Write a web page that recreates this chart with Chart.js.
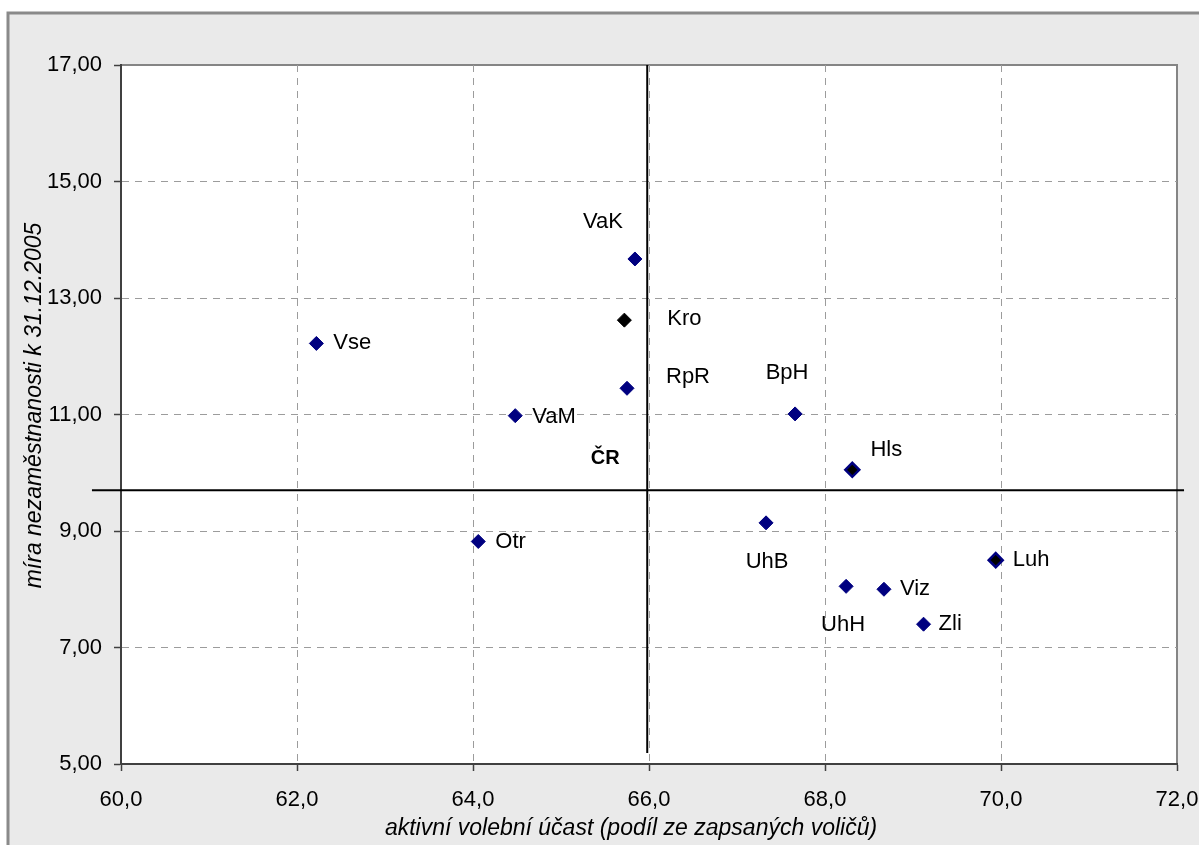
<!DOCTYPE html>
<html>
<head>
<meta charset="utf-8">
<script src="https://cdn.jsdelivr.net/npm/chart.js@4/dist/chart.umd.min.js"></script>
<style>
  html, body { margin: 0; padding: 0; background: #ffffff; }
  #wrap { width: 1199px; height: 845px; }
</style>
</head>
<body>
<div id="wrap"><canvas id="c" width="1199" height="845"></canvas></div>
<script>
// ---------- DATA ----------
const categories   = ['Vse', 'VaM', 'Otr', 'VaK', 'Kro', 'RpR', 'BpH', 'Hls', 'UhB', 'UhH', 'Viz', 'Zli', 'Luh'];
const turnout      = [62.22, 64.48, 64.06, 65.84, 65.72, 65.75, 67.66, 68.31, 67.33, 68.24, 68.67, 69.12, 69.94];
const unemployment = [12.22, 10.98,  8.82, 13.67, 12.62, 11.45, 11.01, 10.05,  9.14,  8.05,  8.00,  7.40,  8.50];
const crLabel = 'ČR';
const crTurnout = 65.98;
const crUnemployment = 9.70;
const crHLineX = [59.67, 72.08];   // extent of the ČR horizontal reference line (x values)
const crVLineY = [17.00, 5.19];    // extent of the ČR vertical reference line (y values)
const xTickLabels = ['60,0', '62,0', '64,0', '66,0', '68,0', '70,0', '72,0'];
const yTickLabels = ['5,00', '7,00', '9,00', '11,00', '13,00', '15,00', '17,00'];
const xTitle = 'aktivní volební účast (podíl ze zapsaných voličů)';
const yTitle = 'míra nezaměstnanosti k 31.12.2005';

// ---------- STYLE ----------
const FONT = '"Liberation Sans", Arial, sans-serif';
const NAVY = '#000080';
// label placement: [dx, dy, align] relative to the drawn point
const labelPlacement = {
  Vse: [17, 0, 'left'], VaM: [17, 1, 'left'], Otr: [17, 0, 'left'],
  VaK: [-32, -37, 'center'], Kro: [43, -1, 'left'], RpR: [39, -11, 'left'],
  BpH: [-8, -41, 'center'], Hls: [34, -20, 'center'], UhB: [1, 39, 'center'],
  UhH: [-3, 39, 'center'], Viz: [16, 0, 'left'], Zli: [15, 0, 'left'], Luh: [17, 0, 'left']
};
const crPlacement = [-42, -32];
const pointFill   = categories.map(c => (c === 'Kro' || c === 'Hls' || c === 'Luh') ? '#000000' : NAVY);
const pointBorder = categories.map(c => (c === 'Kro') ? '#000000' : NAVY);
const pointBorderW = categories.map(c => (c === 'Hls' || c === 'Luh') ? 2.5 : 1);

const points = categories.map((c, i) => ({ x: turnout[i], y: unemployment[i] }));

const bgPlugin = {
  id: 'bg',
  beforeDraw(chart) {
    const { ctx, chartArea: a } = chart;
    ctx.save();
    ctx.fillStyle = '#ffffff';
    ctx.fillRect(0, 0, chart.width, chart.height);
    ctx.fillStyle = '#eaeaea';
    ctx.fillRect(8, 13, chart.width + 20, chart.height + 20);
    ctx.strokeStyle = '#8a8a8a';
    ctx.lineWidth = 3;
    ctx.strokeRect(8, 13, chart.width + 20, chart.height + 20);
    ctx.fillStyle = '#ffffff';
    ctx.fillRect(a.left, a.top, a.right - a.left, a.bottom - a.top);
    ctx.strokeStyle = '#858585';
    ctx.lineWidth = 2;
    ctx.strokeRect(a.left, a.top, a.right - a.left, a.bottom - a.top);
    ctx.restore();
  },
  afterDraw(chart) {
    const { ctx, chartArea: a } = chart;
    ctx.save();
    ctx.fillStyle = '#000000';
    ctx.font = 'italic 23px ' + FONT;
    ctx.textAlign = 'center';
    ctx.textBaseline = 'middle';
    ctx.fillText(xTitle, (a.left + a.right) / 2 - 18, a.bottom + 65);
    ctx.translate(35, (a.top + a.bottom) / 2 - 9);
    ctx.rotate(-Math.PI / 2);
    ctx.fillText(yTitle, 0, 0);
    ctx.restore();
  }
};

const labelPlugin = {
  id: 'labels',
  afterDatasetsDraw(chart) {
    const { ctx } = chart;
    const meta = chart.getDatasetMeta(0);
    ctx.save();
    ctx.fillStyle = '#000000';
    ctx.font = '22px ' + FONT;
    ctx.textBaseline = 'middle';
    meta.data.forEach((el, i) => {
      const p = labelPlacement[categories[i]];
      ctx.textAlign = p[2];
      ctx.fillText(categories[i], el.x + p[0], el.y + p[1]);
    });
    const xs = chart.scales.x, ys = chart.scales.y;
    ctx.font = 'bold 20px ' + FONT;
    ctx.textAlign = 'center';
    ctx.fillText(crLabel, xs.getPixelForValue(crTurnout) + crPlacement[0], ys.getPixelForValue(crUnemployment) + crPlacement[1]);
    ctx.restore();
  }
};

const gridColor = (ctx) => (ctx.index === 0 || ctx.index === 6) ? 'rgba(0,0,0,0)' : '#9c9c9c';

new Chart(document.getElementById('c'), {
  type: 'scatter',
  data: {
    datasets: [
      {
        label: 'okresy',
        data: points,
        pointStyle: 'rectRot',
        pointRadius: 7,
        pointHoverRadius: 7,
        pointBackgroundColor: pointFill,
        pointBorderColor: pointBorder,
        pointBorderWidth: pointBorderW,
        showLine: false
      },
      {
        label: 'ČR horizontal',
        data: crHLineX.map(x => ({ x: x, y: crUnemployment })),
        showLine: true,
        borderColor: '#000000',
        borderWidth: 2,
        pointRadius: 0,
        pointHitRadius: 0,
        clip: false
      },
      {
        label: 'ČR vertical',
        data: crVLineY.map(y => ({ x: crTurnout, y: y })),
        showLine: true,
        borderColor: '#000000',
        borderWidth: 2,
        pointRadius: 0,
        pointHitRadius: 0,
        clip: false
      }
    ]
  },
  options: {
    responsive: false,
    animation: false,
    devicePixelRatio: 1,
    layout: { padding: { left: 0, top: 65, right: 22, bottom: 0 } },
    plugins: { legend: { display: false }, tooltip: { enabled: false }, title: { display: false } },
    scales: {
      x: {
        type: 'linear',
        min: 60, max: 72,
        afterFit(s) { s.height = 81; s.paddingLeft = 0; s.paddingRight = 0; },
        afterBuildTicks(s) { s.ticks = xTickLabels.map((t, i) => ({ value: 60 + i * 2 })); },
        ticks: {
          color: '#000000',
          font: { family: FONT, size: 22 },
          padding: 16,
          maxRotation: 0,
          autoSkip: false,
          callback: (v, i) => xTickLabels[i]
        },
        grid: {
          color: gridColor,
          lineWidth: 1,
          tickColor: '#404040',
          tickLength: 7,
          tickWidth: 1.5
        },
        border: { display: true, color: '#404040', width: 2, dash: [7, 6] }
      },
      y: {
        type: 'linear',
        min: 5, max: 17,
        afterFit(s) { s.width = 121; s.paddingTop = 0; s.paddingBottom = 0; },
        afterBuildTicks(s) { s.ticks = yTickLabels.map((t, i) => ({ value: 5 + i * 2 })); },
        ticks: {
          color: '#000000',
          font: { family: FONT, size: 22 },
          padding: 12,
          autoSkip: false,
          callback: (v, i) => yTickLabels[i]
        },
        grid: {
          color: gridColor,
          lineWidth: 1,
          tickColor: '#404040',
          tickLength: 7,
          tickWidth: 1.5
        },
        border: { display: true, color: '#404040', width: 2, dash: [7, 6] }
      }
    }
  },
  plugins: [bgPlugin, labelPlugin]
});
</script>
</body>
</html>
